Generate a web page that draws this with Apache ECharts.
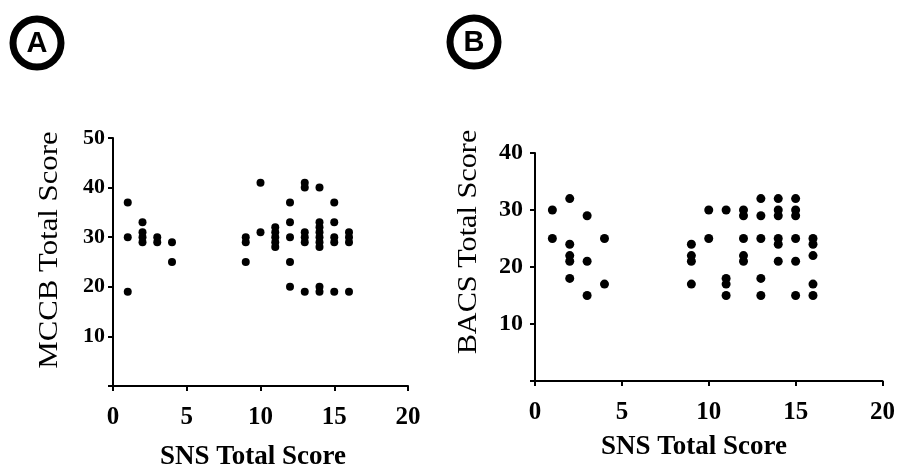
<!DOCTYPE html>
<html>
<head>
<meta charset="utf-8">
<script src="https://cdn.jsdelivr.net/npm/echarts@6/dist/echarts.min.js"></script>
<style>
html,body{margin:0;padding:0;background:#fff;}
#chart{width:898px;height:470px;}
</style>
</head>
<body>
<div id="chart"></div>
<script>
// Panel A: SNS vs MCCB
var snsA = [1,1,1, 2,2,2,2, 3,3, 4,4, 9,9,9, 10,10, 11,11,11,11,11, 12,12,12,12,12,
  13,13,13,13,13,13, 14,14,14,14,14,14,14,14,14, 15,15,15,15,15, 16,16,16,16];
var mccb = [37,30,19, 33,31,30,29, 30,29, 29,25, 30,29,25, 41,31, 32,31,30,29,28, 37,33,30,25,20,
  41,40,31,30,29,19, 40,33,32,31,30,29,28,20,19, 37,33,30,29,19, 31,30,29,19];
// Panel B: SNS vs BACS
var snsB = [1,1, 2,2,2,2,2, 3,3,3, 4,4, 9,9,9,9, 10,10, 11,11,11,11, 12,12,12,12,12,
  13,13,13,13,13, 14,14,14,14,14,14, 15,15,15,15,15,15, 16,16,16,16,16];
var bacs = [30,25, 32,24,22,21,18, 29,21,15, 25,17, 24,22,21,17, 30,25, 30,18,17,15, 30,29,25,22,21,
  32,29,25,18,15, 32,30,29,25,24,21, 32,30,29,25,21,15, 25,24,22,17,15];
var xTicks = [0,5,10,15,20];
var yTicksA = [10,20,30,40,50];
var yTicksB = [10,20,30,40];
var xTitle = 'SNS Total Score';
var yTitleA = 'MCCB Total Score';
var yTitleB = 'BACS Total Score';
var panelLabels = ['A','B'];

function pairs(xs, ys){ return xs.map(function(v,i){ return [v, ys[i]]; }); }

var serif = '"Liberation Serif","Times New Roman",serif';
var axisLine = {show:true, onZero:false, lineStyle:{color:'#000', width:2}};
var axisTick = {show:true, length:5, lineStyle:{color:'#000', width:2}};

function xAxis(idx){
  return {
    type:'value', gridIndex:idx, min:xTicks[0], max:xTicks[xTicks.length-1], interval:xTicks[1]-xTicks[0],
    axisLine:axisLine, axisTick:axisTick, splitLine:{show:false},
    axisLabel:{fontFamily:serif, fontWeight:'bold', fontSize:25, color:'#000', margin:19}
  };
}
function yAxis(idx, ticks, fs, margin){
  return {
    type:'value', gridIndex:idx, min:0, max:ticks[ticks.length-1], interval:ticks[1]-ticks[0],
    axisLine:axisLine, axisTick:axisTick, splitLine:{show:false},
    axisLabel:{fontFamily:serif, fontWeight:'bold', fontSize:fs, color:'#000', margin:margin,
      formatter:function(v){ return v === 0 ? '' : String(v); }}
  };
}
function titleText(txt, x, y, rot, font, sx){
  return {type:'text', x:x, y:y, rotation:rot, scaleX:sx || 1,
    style:{text:txt, fill:'#000', align:'center', verticalAlign:'middle', font:font}};
}
var xFont = 'bold 27px ' + serif;
var yFont = '28px ' + serif;
var circFont = 'bold 29px "Liberation Sans", Arial, sans-serif';

var chart = echarts.init(document.getElementById('chart'), null, {renderer:'canvas'});
chart.setOption({
  backgroundColor:'#fff',
  animation:false,
  grid:[
    {left:113, top:138, width:295, height:248},
    {left:535, top:153, width:348, height:228}
  ],
  xAxis:[xAxis(0), xAxis(1)],
  yAxis:[yAxis(0, yTicksA, 22, 8), yAxis(1, yTicksB, 24, 12)],
  series:[
    {type:'scatter', xAxisIndex:0, yAxisIndex:0, data:pairs(snsA, mccb),
      symbolSize:8, itemStyle:{color:'#000', opacity:1}},
    {type:'scatter', xAxisIndex:1, yAxisIndex:1, data:pairs(snsB, bacs),
      symbolSize:9, itemStyle:{color:'#000', opacity:1}}
  ],
  graphic:[
    titleText(xTitle, 253, 457, 0, xFont),
    titleText(xTitle, 694, 447, 0, xFont),
    titleText(yTitleA, 50, 250, Math.PI/2, yFont, 1.1),
    titleText(yTitleB, 469, 242, Math.PI/2, yFont, 1.08),
    {type:'circle', shape:{cx:37, cy:43, r:24}, style:{fill:'#fff', stroke:'#000', lineWidth:7}},
    {type:'text', x:37, y:44, style:{text:panelLabels[0], fill:'#000', align:'center', verticalAlign:'middle', font:circFont}},
    {type:'circle', shape:{cx:474, cy:42, r:24}, style:{fill:'#fff', stroke:'#000', lineWidth:7}},
    {type:'text', x:474, y:43, style:{text:panelLabels[1], fill:'#000', align:'center', verticalAlign:'middle', font:circFont}}
  ]
});
</script>
</body>
</html>
